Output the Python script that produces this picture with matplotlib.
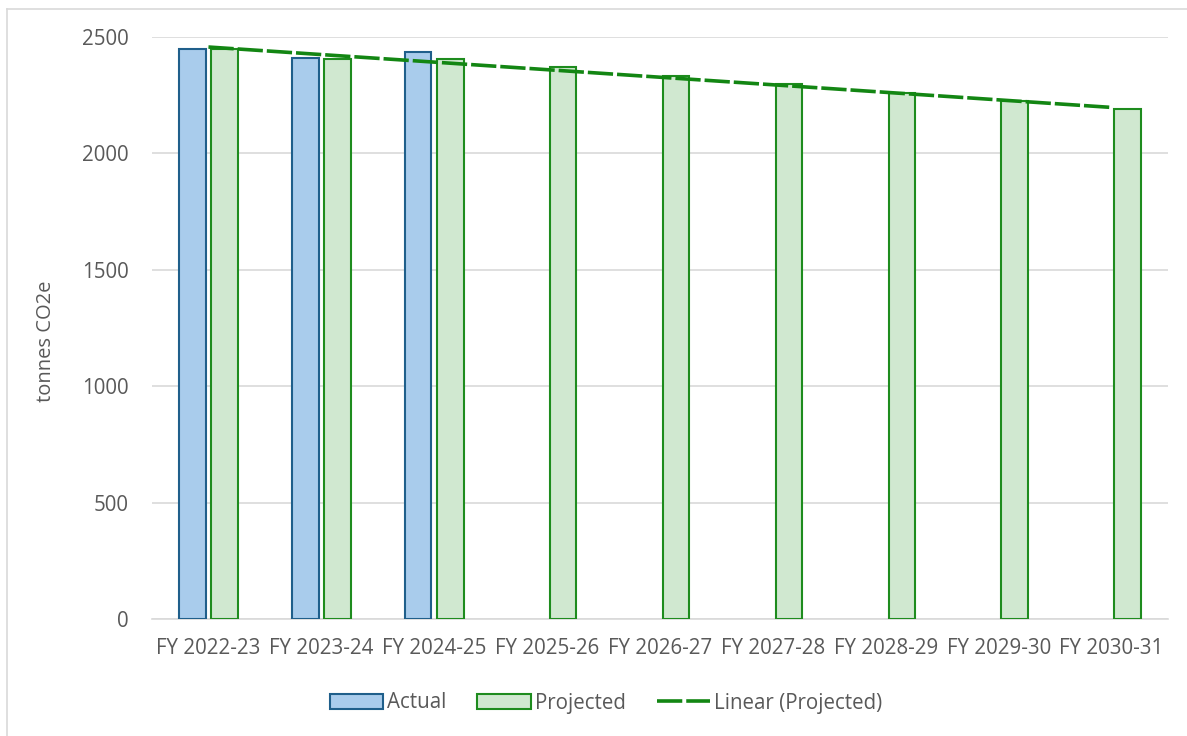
import numpy as np
import matplotlib
matplotlib.use("Agg")
import matplotlib.pyplot as plt
from matplotlib.lines import Line2D
from matplotlib.patches import Patch

categories = ["FY 2022-23", "FY 2023-24", "FY 2024-25", "FY 2025-26", "FY 2026-27",
              "FY 2027-28", "FY 2028-29", "FY 2029-30", "FY 2030-31"]
actual = [2447, 2409, 2437]
projected = [2450, 2406, 2407, 2373, 2334, 2298, 2261, 2225, 2191]
yticks = [0, 500, 1000, 1500, 2000, 2500]

W, H = 1187, 736
fig = plt.figure(figsize=(W / 100, H / 100), dpi=100)
plt.rcParams['font.family'] = ['Open Sans', 'DejaVu Sans']

left, right, top, bottom = 152, 1168, 37, 619
ax = fig.add_axes([left / W, 1 - bottom / H, (right - left) / W, (bottom - top) / H])

x = np.arange(len(categories))
bw = 0.235
off = 0.142
blue_fill, blue_edge = "#A9CCEC", "#1F5F8B"
green_fill, green_edge = "#D0E8D0", "#1E8C1E"

ax.bar(x[:len(actual)] - off, actual, width=bw, color=blue_fill, edgecolor=blue_edge, linewidth=1.5, zorder=3)
ax.bar(x + off, projected, width=bw, color=green_fill, edgecolor=green_edge, linewidth=1.5, zorder=3)

coef = np.polyfit(x, projected, 1)
trend = np.polyval(coef, x)
ax.plot(x, trend, color="#138613", linewidth=2.6, dashes=(7, 1.1), zorder=4, solid_capstyle="butt")

ax.set_xlim(-0.5, len(categories) - 0.5)
ax.set_ylim(0, 2500)
ax.set_yticks(yticks)
ax.set_xticks(x)
ax.set_xticklabels(categories)
ax.tick_params(axis="both", length=0, colors="#595959", labelsize=14.8)
ax.tick_params(axis="x", pad=14)
ax.tick_params(axis="y", pad=17)
ax.grid(axis="y", color="#D9D9D9", linewidth=1.2, zorder=0)
for s in ["top", "right", "left"]:
    ax.spines[s].set_visible(False)
ax.spines["bottom"].set_color("#D9D9D9")
ax.spines["bottom"].set_linewidth(1.2)
ax.set_ylabel("tonnes CO2e", color="#595959", fontsize=14.5)
ax.yaxis.set_label_coords((56 - left) / (right - left), (bottom - 341) / (bottom - top))

handles = [Patch(facecolor=blue_fill, edgecolor=blue_edge, linewidth=1.5, label="Actual"),
           Patch(facecolor=green_fill, edgecolor=green_edge, linewidth=1.5, label="Projected"),
           Line2D([0], [0], color="#138613", linewidth=2.6, dashes=(7, 1.1), label="Linear (Projected)")]
leg = fig.legend(handles=handles, loc="center", bbox_to_anchor=(606 / W, 1 - 703 / H), ncol=3,
                 frameon=False, fontsize=14.8, handlelength=2.6, handleheight=0.7,
                 handletextpad=0.2, columnspacing=1.5)
for t in leg.get_texts():
    t.set_color("#595959")

# chart border
fig.add_artist(Line2D([6.5 / W, 6.5 / W], [0, 1 - 9 / H], color="#D9D9D9", linewidth=1.2, transform=fig.transFigure))
fig.add_artist(Line2D([6.5 / W, 1], [1 - 9 / H, 1 - 9 / H], color="#D9D9D9", linewidth=1.2, transform=fig.transFigure))

fig.savefig("out.png", dpi=100)
